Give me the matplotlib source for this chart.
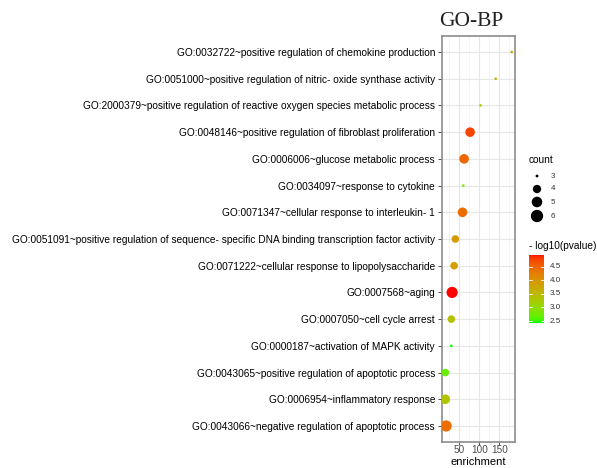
import numpy as np
import matplotlib
matplotlib.use("Agg")
import matplotlib.pyplot as plt
from matplotlib.colors import ListedColormap, Normalize

# GO biological process terms (top to bottom as drawn)
terms = [
    "GO:0032722~positive regulation of chemokine production",
    "GO:0051000~positive regulation of nitric- oxide synthase activity",
    "GO:2000379~positive regulation of reactive oxygen species metabolic process",
    "GO:0048146~positive regulation of fibroblast proliferation",
    "GO:0006006~glucose metabolic process",
    "GO:0034097~response to cytokine",
    "GO:0071347~cellular response to interleukin- 1",
    "GO:0051091~positive regulation of sequence- specific DNA binding transcription factor activity",
    "GO:0071222~cellular response to lipopolysaccharide",
    "GO:0007568~aging",
    "GO:0007050~cell cycle arrest",
    "GO:0000187~activation of MAPK activity",
    "GO:0043065~positive regulation of apoptotic process",
    "GO:0006954~inflammatory response",
    "GO:0043066~negative regulation of apoptotic process",
]
enrichment = [181, 141, 103, 77, 62, 60, 58, 40, 37, 32, 30, 30, 15, 15, 17]
counts = [3, 3, 3, 5, 5, 3, 5, 4, 4, 6, 4, 3, 4, 5, 6]
neglog10p = [3.7, 3.6, 3.2, 4.7, 4.45, 2.8, 4.4, 3.9, 3.85, 4.93, 3.4, 2.43, 2.7, 3.35, 4.4]

size_breaks = [3, 4, 5, 6]
color_breaks = [2.5, 3.0, 3.5, 4.0, 4.5]
x_ticks = [50, 100, 150]


# --- green -> red gradient interpolated in CIELAB ---
def srgb_to_lab(rgb):
    rgb = np.asarray(rgb, float)
    lin = np.where(rgb <= 0.04045, rgb / 12.92, ((rgb + 0.055) / 1.055) ** 2.4)
    M = np.array([[0.4124, 0.3576, 0.1805],
                  [0.2126, 0.7152, 0.0722],
                  [0.0193, 0.1192, 0.9505]])
    xyz = M @ lin
    wp = np.array([0.95047, 1.0, 1.08883])
    t = xyz / wp
    f = np.where(t > (6 / 29) ** 3, np.cbrt(t), t / (3 * (6 / 29) ** 2) + 4 / 29)
    return np.array([116 * f[1] - 16, 500 * (f[0] - f[1]), 200 * (f[1] - f[2])])


def lab_to_srgb(lab):
    L, a, b = lab
    fy = (L + 16) / 116
    fx = fy + a / 500
    fz = fy - b / 200
    f = np.array([fx, fy, fz])
    t = np.where(f > 6 / 29, f ** 3, 3 * (6 / 29) ** 2 * (f - 4 / 29))
    xyz = t * np.array([0.95047, 1.0, 1.08883])
    Minv = np.array([[3.2406, -1.5372, -0.4986],
                     [-0.9689, 1.8758, 0.0415],
                     [0.0557, -0.2040, 1.0570]])
    lin = Minv @ xyz
    lin = np.clip(lin, 0, 1)
    rgb = np.where(lin <= 0.0031308, 12.92 * lin, 1.055 * lin ** (1 / 2.4) - 0.055)
    return np.clip(rgb, 0, 1)


lab_lo = srgb_to_lab([0, 1, 0])
lab_hi = srgb_to_lab([1, 0, 0])
cols = [lab_to_srgb(lab_lo + (lab_hi - lab_lo) * t) for t in np.linspace(0, 1, 256)]
cmap = ListedColormap(cols)
norm = Normalize(vmin=min(neglog10p), vmax=max(neglog10p))


def diameter_px(c, scale=1.0):
    # area-proportional size scale, like ggplot's scale_size
    lo, hi = min(size_breaks), max(size_breaks)
    r = np.sqrt((np.asarray(c, float) - lo) / (hi - lo))
    return (2.6 + r * (11.2 - 2.6)) * scale


def marker_area(c, scale=1.0):
    d_pt = diameter_px(c, scale) * 72 / 100
    return d_pt ** 2


W, H = 597, 468
fig = plt.figure(figsize=(W / 100, H / 100), dpi=100)
fig.patch.set_facecolor("white")

L, R, T, B = 442, 515, 36, 442
ax = fig.add_axes([L / W, 1 - B / H, (R - L) / W, (B - T) / H])

n = len(terms)
ypos = np.arange(n)[::-1]
ax.scatter(enrichment, ypos, s=marker_area(counts), c=neglog10p, cmap=cmap, norm=norm,
           linewidths=0, zorder=3)

xmin, xmax = min(enrichment), max(enrichment)
pad = (xmax - xmin) * 0.05
ax.set_xlim(xmin - pad, xmax + pad)
ax.set_ylim(-0.6, n - 0.4)
ax.set_xticks(x_ticks)
ax.set_xticklabels([str(v) for v in x_ticks])
ax.set_xticks([25, 75, 125, 175], minor=True)
ax.set_yticks(ypos)
ax.set_yticklabels(terms)
ax.tick_params(axis="y", labelsize=7.3, colors="#333333", length=3, width=0.6,
               pad=2, labelcolor="black")
ax.tick_params(axis="x", which="major", labelsize=7.2, colors="#333333", length=2.5,
               width=0.6, pad=0, labelcolor="#4d4d4d")
ax.tick_params(axis="x", which="minor", length=0)
for lab in ax.get_yticklabels() + ax.get_xticklabels():
    lab.set_fontfamily("Liberation Sans")
ax.grid(True, which="major", color="#e6e6e6", linewidth=0.8, zorder=0)
ax.grid(True, which="minor", axis="x", color="#f0f0f0", linewidth=0.5, zorder=0)
ax.set_axisbelow(True)
for sp in ax.spines.values():
    sp.set_color("#8c8c8c")
    sp.set_linewidth(1.2)

fig.text((L + R) / 2 / W, 1 - 462 / H, "enrichment", fontsize=8.0,
         family="Liberation Sans", ha="center", va="center")

fig.text(471 / W, 1 - 22 / H, "GO-BP", fontsize=15.5, family="Liberation Serif",
         ha="center", va="center", color="#222222")

# size legend
fig.text(529 / W, 1 - 160 / H, "count", fontsize=7.3, family="Liberation Sans",
         ha="left", va="center")
lax = fig.add_axes([0, 0, 1, 1], facecolor="none")
lax.set_xlim(0, W)
lax.set_ylim(H, 0)
lax.axis("off")
leg_y = [176, 189, 202, 216]
lax.scatter([537] * len(size_breaks), leg_y, s=marker_area(size_breaks, 1.1), c="black",
            linewidths=0)
for yy, c in zip(leg_y, size_breaks):
    lax.text(551, yy, str(c), fontsize=5.8, family="Liberation Sans", ha="left",
             va="center", color="#333333")

# colour legend
fig.text(529 / W, 1 - 246 / H, "- log10(pvalue)", fontsize=7.3, family="Liberation Sans",
         ha="left", va="center")
cb_top, cb_bot, cb_l, cb_r = 255, 323, 529, 544
cax = fig.add_axes([cb_l / W, 1 - cb_bot / H, (cb_r - cb_l) / W, (cb_bot - cb_top) / H])
grad = np.linspace(norm.vmin, norm.vmax, 200).reshape(-1, 1)
cax.imshow(grad, cmap=cmap, norm=norm, aspect="auto", origin="lower",
           extent=[0, 1, norm.vmin, norm.vmax])
cax.set_xlim(0, 1)
cax.set_ylim(norm.vmin, norm.vmax)
cax.set_xticks([])
cax.set_yticks([])
for sp in cax.spines.values():
    sp.set_visible(False)
for v in color_breaks:
    cax.plot([0, 0.2], [v, v], color="white", lw=0.6)
    cax.plot([0.8, 1], [v, v], color="white", lw=0.6)
    cax.text(1.4, v, f"{v:.1f}", transform=cax.get_yaxis_transform(), fontsize=5.8,
             family="Liberation Sans", ha="left", va="center", color="#333333")

fig.savefig("out.png", dpi=100, facecolor="white")
